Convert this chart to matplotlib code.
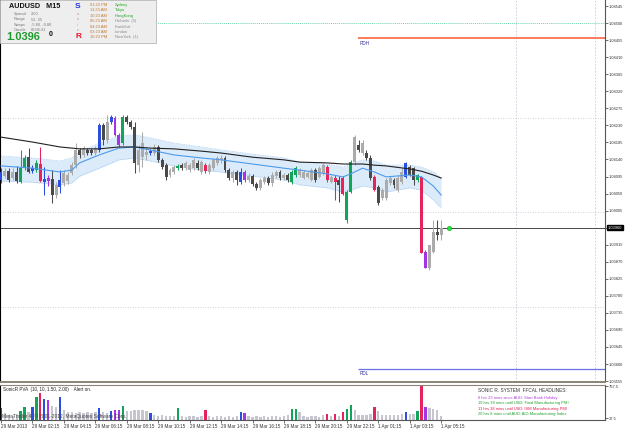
import matplotlib
matplotlib.use('Agg')
import matplotlib.pyplot as plt
import matplotlib.transforms as mtransforms
from matplotlib.patches import Rectangle
import numpy as np

plt.rcParams['font.family'] = ['Liberation Sans', 'DejaVu Sans']

# AUDUSD M15 bars (29 Mar 2013 -> 1 Apr 05:15)
open_ = [
    1.04086, 1.04096, 1.04109, 1.04091, 1.04107, 1.04080, 1.04117, 1.04146, 1.04109, 1.04112,
    1.04128, 1.04080, 1.04091, 1.04088, 1.04046, 1.04067, 1.04078, 1.04083, 1.04104, 1.04125,
    1.04165, 1.04152, 1.04165, 1.04165, 1.04157, 1.04165, 1.04231, 1.04191, 1.04239, 1.04249,
    1.04205, 1.04184, 1.04252, 1.04239, 1.04226, 1.04125, 1.04146, 1.04152, 1.04157, 1.04157,
    1.04173, 1.04139, 1.04125, 1.04099, 1.04107, 1.04117, 1.04125, 1.04117, 1.04112, 1.04117,
    1.04131, 1.04107, 1.04125, 1.04107, 1.04117, 1.04131, 1.04139, 1.04144, 1.04112, 1.04091,
    1.04107, 1.04080, 1.04107, 1.04086, 1.04096, 1.04075, 1.04065, 1.04080, 1.04091, 1.04078,
    1.04096, 1.04107, 1.04091, 1.04099, 1.04080, 1.04099, 1.04099, 1.04091, 1.04094, 1.04086,
    1.04112, 1.04094, 1.04104, 1.04120, 1.04080, 1.04091, 1.04086, 1.04091, 1.03980, 1.04054,
    1.04133, 1.04178, 1.04157, 1.04157, 1.04144, 1.04094, 1.04067, 1.04038, 1.04038, 1.04078,
    1.04086, 1.04059, 1.04080, 1.04094, 1.04120, 1.04117, 1.04086, 1.04094, 1.03896, 1.03853,
    1.03896, 1.03949, 1.03941]
high = [
    1.04117, 1.04117, 1.04117, 1.04117, 1.04123, 1.04165, 1.04152, 1.04170, 1.04125, 1.04139,
    1.04173, 1.04120, 1.04099, 1.04112, 1.04080, 1.04112, 1.04112, 1.04107, 1.04133, 1.04184,
    1.04170, 1.04176, 1.04170, 1.04170, 1.04176, 1.04236, 1.04236, 1.04257, 1.04257, 1.04255,
    1.04210, 1.04257, 1.04257, 1.04244, 1.04239, 1.04178, 1.04213, 1.04173, 1.04168, 1.04181,
    1.04178, 1.04144, 1.04131, 1.04117, 1.04125, 1.04128, 1.04131, 1.04136, 1.04131, 1.04144,
    1.04139, 1.04139, 1.04131, 1.04131, 1.04144, 1.04149, 1.04152, 1.04149, 1.04117, 1.04112,
    1.04112, 1.04117, 1.04112, 1.04104, 1.04102, 1.04080, 1.04091, 1.04096, 1.04096, 1.04107,
    1.04112, 1.04112, 1.04104, 1.04104, 1.04112, 1.04123, 1.04117, 1.04112, 1.04109, 1.04117,
    1.04117, 1.04123, 1.04131, 1.04125, 1.04099, 1.04099, 1.04096, 1.04096, 1.04059, 1.04139,
    1.04205, 1.04191, 1.04191, 1.04165, 1.04152, 1.04099, 1.04073, 1.04065, 1.04091, 1.04096,
    1.04091, 1.04099, 1.04117, 1.04133, 1.04125, 1.04120, 1.04102, 1.04096, 1.03901, 1.03914,
    1.03980, 1.03980, 1.03980]
low = [
    1.04078, 1.04091, 1.04080, 1.04086, 1.04078, 1.04078, 1.04112, 1.04104, 1.04104, 1.04107,
    1.04080, 1.04046, 1.04070, 1.04025, 1.04038, 1.04051, 1.04070, 1.04075, 1.04099, 1.04117,
    1.04144, 1.04146, 1.04152, 1.04152, 1.04152, 1.04160, 1.04178, 1.04184, 1.04234, 1.04202,
    1.04173, 1.04178, 1.04234, 1.04220, 1.04104, 1.04107, 1.04120, 1.04139, 1.04152, 1.04152,
    1.04133, 1.04115, 1.04086, 1.04094, 1.04102, 1.04112, 1.04112, 1.04112, 1.04107, 1.04112,
    1.04112, 1.04102, 1.04104, 1.04102, 1.04112, 1.04125, 1.04131, 1.04107, 1.04086, 1.04080,
    1.04073, 1.04075, 1.04080, 1.04080, 1.04070, 1.04059, 1.04059, 1.04075, 1.04073, 1.04070,
    1.04091, 1.04086, 1.04086, 1.04080, 1.04075, 1.04094, 1.04094, 1.04088, 1.04091, 1.04083,
    1.04080, 1.04091, 1.04099, 1.04080, 1.04078, 1.04033, 1.04028, 1.04046, 1.03972, 1.04051,
    1.04125, 1.04160, 1.04152, 1.04139, 1.04086, 1.04057, 1.04020, 1.04033, 1.04033, 1.04073,
    1.04065, 1.04054, 1.04075, 1.04091, 1.04096, 1.04073, 1.04080, 1.03893, 1.03853, 1.03848,
    1.03893, 1.03928, 1.03928]
close = [
    1.04107, 1.04109, 1.04086, 1.04107, 1.04083, 1.04117, 1.04144, 1.04107, 1.04117, 1.04131,
    1.04083, 1.04088, 1.04083, 1.04046, 1.04073, 1.04086, 1.04104, 1.04099, 1.04125, 1.04165,
    1.04152, 1.04170, 1.04157, 1.04157, 1.04170, 1.04231, 1.04191, 1.04239, 1.04252, 1.04205,
    1.04178, 1.04252, 1.04239, 1.04226, 1.04131, 1.04165, 1.04184, 1.04160, 1.04162, 1.04173,
    1.04139, 1.04120, 1.04094, 1.04112, 1.04120, 1.04123, 1.04117, 1.04131, 1.04125, 1.04139,
    1.04117, 1.04133, 1.04109, 1.04125, 1.04139, 1.04144, 1.04144, 1.04112, 1.04091, 1.04107,
    1.04086, 1.04107, 1.04086, 1.04096, 1.04075, 1.04065, 1.04086, 1.04091, 1.04078, 1.04099,
    1.04107, 1.04091, 1.04099, 1.04086, 1.04107, 1.04117, 1.04112, 1.04107, 1.04104, 1.04112,
    1.04086, 1.04117, 1.04125, 1.04086, 1.04094, 1.04080, 1.04073, 1.04049, 1.04054, 1.04133,
    1.04199, 1.04165, 1.04184, 1.04144, 1.04091, 1.04059, 1.04025, 1.04059, 1.04086, 1.04091,
    1.04073, 1.04091, 1.04107, 1.04131, 1.04099, 1.04086, 1.04099, 1.03893, 1.03853, 1.03914,
    1.03949, 1.03941, 1.03960]
# PVA class: u=up, d=down, G=bull climax, R=bear climax, B=bull rising, P=bear rising
bar_type = ("B u d u d G G d B G  R B P d u B u u u u  d u d d u B d u B P  "
            "P G d d d u u u B u  d d d u u G d u u u  d u R u u u u d d u  "
            "d B P u d d u u d u  u d u d G G u u u u  d u u R u R d R G G  "
            "u d u d d R d u u u  d u u B d d G R P u  u d u").split()
volume = [
    274, 160, 120, 100, 140, 206, 297, 180, 297, 526,
    617, 480, 457, 320, 297, 526, 230, 183, 183, 160,
    183, 160, 183, 160, 183, 274, 183, 160, 206, 229,
    229, 320, 206, 206, 229, 229, 229, 206, 160, 120,
    100, 110, 100, 90, 100, 274, 90, 80, 90, 100,
    80, 90, 229, 90, 80, 100, 90, 80, 90, 80,
    100, 183, 160, 90, 80, 90, 80, 90, 80, 100,
    90, 80, 100, 110, 251, 251, 183, 90, 80, 100,
    90, 80, 110, 137, 90, 137, 90, 183, 251, 343,
    229, 114, 114, 114, 137, 297, 206, 120, 120, 114,
    114, 114, 137, 183, 137, 137, 206, 767, 297, 274,
    251, 229, 91]

# moving averages read at a few bars
ma_idx = [0, 8, 15, 18, 20, 25, 30, 34, 38, 44, 51, 56, 64, 72, 76, 83, 87, 89, 92, 95, 98, 104, 107, 110, 112]
ma_slow = [1.04199, 1.04186, 1.04173, 1.04170, 1.04168, 1.04168, 1.04173, 1.04173, 1.04170, 1.04168,
           1.04162, 1.04157, 1.04146, 1.04139, 1.04133, 1.04131, 1.04128, 1.04128, 1.04128, 1.04125,
           1.04123, 1.04115, 1.04109, 1.04099, 1.04091]
band_mid = [1.04123, 1.04117, 1.04107, 1.04112, 1.04131, 1.04152, 1.04170, 1.04173, 1.04165, 1.04152,
            1.04144, 1.04139, 1.04128, 1.04117, 1.04112, 1.04102, 1.04094, 1.04102, 1.04117, 1.04107,
            1.04094, 1.04099, 1.04094, 1.04070, 1.04046]
band_hi = [1.04149, 1.04144, 1.04136, 1.04144, 1.04160, 1.04183, 1.04202, 1.04205, 1.04197, 1.04183,
           1.04173, 1.04165, 1.04154, 1.04144, 1.04133, 1.04128, 1.04120, 1.04128, 1.04139, 1.04136,
           1.04125, 1.04125, 1.04120, 1.04107, 1.04091]
band_lo = [1.04083, 1.04080, 1.04073, 1.04078, 1.04096, 1.04117, 1.04139, 1.04144, 1.04136, 1.04123,
           1.04112, 1.04107, 1.04096, 1.04086, 1.04073, 1.04065, 1.04054, 1.04059, 1.04070, 1.04065,
           1.04054, 1.04065, 1.04059, 1.04033, 1.04012]

bid = 1.03960
rdh = 1.04461
rdl = 1.03587
rd_start = 90.8
round_levels = [1.04250, 1.04000, 1.03750]
green_level = 1.04500
news_bars = [131.0, 151.1]
dot_bar = 114

price_ticks = [1.04545, 1.04500, 1.04455, 1.04410, 1.04365, 1.04320, 1.04275, 1.04230,
               1.04185, 1.04140, 1.04095, 1.04050, 1.04005, 1.03960, 1.03915, 1.03870,
               1.03825, 1.03780, 1.03735, 1.03690, 1.03645, 1.03600, 1.03555]
time_idx = [0, 8, 16, 24, 32, 40, 48, 56, 64, 72, 80, 88, 96, 104, 112]
time_labels = ['29 Mar 2013', '29 Mar 02:15', '29 Mar 04:15', '29 Mar 06:15', '29 Mar 08:15',
               '29 Mar 10:15', '29 Mar 12:15', '29 Mar 14:15', '29 Mar 16:15', '29 Mar 18:15',
               '29 Mar 20:15', '29 Mar 22:15', '1 Apr 01:15', '1 Apr 03:15', '1 Apr 05:15']

clock_times = ['01:23 PM', '11:23 AM', '10:23 AM', '05:23 AM', '04:23 AM', '03:23 AM', '10:23 PM']
clock_cities = ['Sydney', 'Tokyo', 'HongKong', 'Helsinki  (5)', 'Frankfurt', 'London', 'NewYork  (1)']
clock_open = [True, True, True, False, False, False, False]
info_keys = ['Spread', 'Range', 'Swaps', 'Candle']
info_vals = ['2.00', '52, 35', '-5.80, -0.80', '00:06:31']
headlines = ['8 hrs 23 mins since AUD: Start Bank Holiday',
             '10 hrs 38 mins until USD: Final Manufacturing PMI',
             '11 hrs 38 mins until USD: ISM Manufacturing PMI',
             '20 hrs 8 mins until AUD: AIG Manufacturing Index']
headline_colors = ['#b040d8', '#22a02a', '#e02050', '#22a02a']

colors = {'u': '#ababab', 'd': '#4a4a4a', 'G': '#10a55a', 'R': '#e6245c',
          'B': '#2a4ee0', 'P': '#a534e6'}
vol_grey = '#c6c6d0'

W, H = 625, 429
fig = plt.figure(figsize=(W / 100, H / 100), dpi=100)
fig.patch.set_facecolor('white')


def box(x0, y0, x1, y1):
    return [x0 / W, 1 - y1 / H, (x1 - x0) / W, (y1 - y0) / H]


def ftext(x, y, s, **kw):
    kw.setdefault('zorder', 7)
    kw.setdefault('va', 'center')
    fig.text(x / W, 1 - y / H, s, **kw)


ax = fig.add_axes(box(0, 0, 605, 382))
axv = fig.add_axes(box(0, 385, 605, 420), sharex=ax)

n = len(close)
idx = np.arange(n)
o = np.array(open_)
c = np.array(close)
cols = [colors[t] for t in bar_type]

ax.set_xlim(-0.26, 153.7)
ax.set_ylim(1.035525, 1.04561)

# levels and markers
for lv in round_levels:
    ax.axhline(lv, color='#c4c4c4', lw=0.6, ls=(0, (1, 2)), zorder=0)
ax.axhline(green_level, color='#70d4aa', lw=0.7, ls=(0, (1, 1)), zorder=0)
for vb in news_bars:
    ax.axvline(vb, color='#c8c8dc', lw=0.6, ls=(0, (2, 2)), zorder=0)
ax.axhline(bid, color='#2a2a2a', lw=0.6, zorder=2)
ax.hlines(rdh, rd_start, 153.7, color='#ff7050', lw=1.3, zorder=2)
ax.hlines(rdl, rd_start, 153.7, color='#6a70e6', lw=0.9, zorder=2)
ax.annotate('RDH', (rd_start, rdh), xytext=(1.5, -2.2), textcoords='offset points',
            size=3.3, color='#30309a', va='top')
ax.annotate('RDL', (rd_start, rdl), xytext=(1.5, -1.8), textcoords='offset points',
            size=3.3, color='#30309a', va='top')

# SonicR dragon band + trend line
ax.fill_between(ma_idx, band_lo, band_hi, color='#dcebfa', lw=0, zorder=1)
ax.plot(ma_idx, band_hi, color='#9cc6ee', lw=0.6, ls=(0, (1, 1)), zorder=2)
ax.plot(ma_idx, band_lo, color='#9cc6ee', lw=0.6, ls=(0, (1, 1)), zorder=2)
ax.plot(ma_idx, band_mid, color='#4d9aec', lw=0.8, zorder=4)
ax.plot(ma_idx, ma_slow, color='#222222', lw=0.8, zorder=4)

# candles
ax.vlines(idx, low, high, colors=cols, lw=0.75, zorder=3)
body_lo = np.minimum(o, c)
body_h = np.maximum(np.abs(c - o), 0.00002)
ax.bar(idx, body_h, bottom=body_lo, width=0.75, color=cols, lw=0, zorder=3)
ax.plot([dot_bar], [bid], 'o', ms=3.2, color='#2ae03e', mec='#18b02a', mew=0.4, zorder=5)

ax.yaxis.tick_right()
ax.set_yticks(price_ticks)
ax.set_yticklabels(['' if p == bid else f'{p:.5f}' for p in price_ticks])
ax.tick_params(axis='y', length=2, width=0.5, pad=0.6, labelsize=2.9, colors='#333333')
ax.tick_params(axis='x', bottom=False, labelbottom=False)
ax.spines['top'].set_visible(False)
ax.spines['left'].set_color('#000000')
ax.spines['left'].set_linewidth(0.8)
ax.spines['right'].set_color('#555555')
ax.spines['right'].set_linewidth(0.8)
ax.spines['bottom'].set_color('#8c8476')
ax.spines['bottom'].set_linewidth(1.4)

trans = mtransforms.blended_transform_factory(ax.transAxes, ax.transData)
ax.text(1.004, bid, '1.03960', transform=trans, ha='left', va='center', size=2.9,
        color='white', clip_on=False, zorder=10,
        bbox=dict(boxstyle='square,pad=0.2', fc='black', ec='black'))

# volume window
vcols = [vol_grey if t in 'ud' else colors[t] for t in bar_type]
axv.bar(idx, volume, width=0.6, color=vcols, lw=0)
axv.set_ylim(0, 800)
axv.yaxis.tick_right()
axv.set_yticks([37.5, 767.5])
axv.set_yticklabels(['37.5', '767.5'])
axv.tick_params(axis='y', length=2, width=0.5, pad=0.6, labelsize=2.9, colors='#333333')
axv.set_xticks(time_idx)
axv.set_xticklabels(time_labels, ha='left')
axv.tick_params(axis='x', length=2, width=0.5, pad=1, labelsize=3.3, colors='#333333')
axv.spines['top'].set_color('#8c8476')
axv.spines['top'].set_linewidth(1.0)
axv.spines['left'].set_color('#000000')
axv.spines['right'].set_color('#555555')
axv.spines['bottom'].set_color('#555555')
for s in axv.spines.values():
    s.set_linewidth(0.8)

axv.text(0.005, 0.88, 'SonicR PVA  (10, 10, 1.50, 2.00)    Alert on.', transform=axv.transAxes,
         size=3.3, va='center', color='#222222')
axv.text(0.003, 0.1, 'MetaTrader 4, \u00a9 2001-2012, MetaQuotes Software Corp.',
         transform=axv.transAxes, size=3.5, va='center', color='#444444')
ftext(478, 391, 'SONIC R. SYSTEM  FFCAL HEADLINES:', size=3.4, color='#333333')
for k, (hl, hc) in enumerate(zip(headlines, headline_colors)):
    ftext(478, 397.5 + 5.6 * k, hl, size=2.9, color=hc)

# info panel
fig.patches.append(Rectangle((0, 1 - 43 / H), 156 / W, 43 / H, transform=fig.transFigure,
                             fc='#eeeeee', ec='#b8b8b8', lw=0.6, zorder=5))
ftext(9, 6, 'AUDUSD   M15', size=5.2, weight='bold', color='#111111')
for k, (key, val) in enumerate(zip(info_keys, info_vals)):
    ftext(14, 14 + 5.3 * k, key, size=2.9, color='#777777')
    ftext(31, 14 + 5.3 * k, val, size=2.9, color='#777777')
ftext(6, 37, '1.0396', size=8, weight='bold', color='#1f9a2e')
ftext(49, 35, '0', size=5, weight='bold', color='#111111')
ftext(75, 6, 'S', size=6, weight='bold', color='#2233dd')
for k, ch in enumerate('onic'):
    ftext(77, 14 + 5.3 * k, ch, size=3, color='#d08888')
ftext(75, 37, 'R', size=6, weight='bold', color='#ee1133')
for k, (t, city, op) in enumerate(zip(clock_times, clock_cities, clock_open)):
    ftext(90, 5 + 5.4 * k, t, size=2.9, color='#c07a30')
    ftext(115, 5 + 5.4 * k, city, size=2.9, color='#22aa22' if op else '#8a8a8a')

fig.savefig('out.png', dpi=100)
